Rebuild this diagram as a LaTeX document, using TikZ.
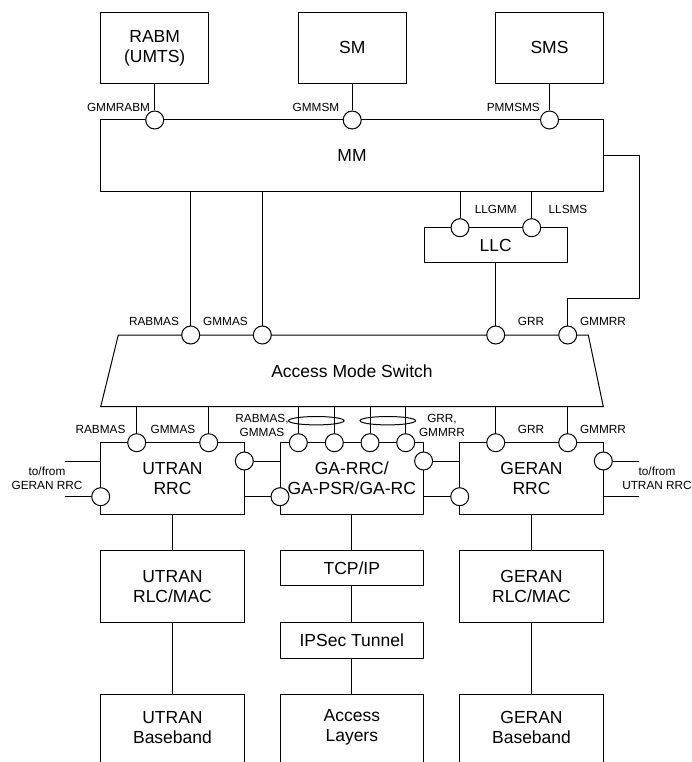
\documentclass[tikz,border=0pt]{standalone}
\usepackage{fontspec}
\setmainfont{Liberation Sans}
\newcommand\bigf{\fontsize{17.5}{20}\selectfont}
\newcommand\smallf{\fontsize{11.8}{14}\selectfont}
\tikzset{
 box/.style={draw, fill=white, inner sep=0pt, align=center, font=\bigf},
 port/.style={draw, circle, fill=white, minimum size=18pt, inner sep=0pt},
 lab/.style={inner sep=0pt, align=center, font=\smallf},
 txt/.style={inner sep=0pt, align=center, font=\bigf},
}
\begin{document}
\begin{tikzpicture}[x=1pt,y=-1pt,line width=1pt]
\useasboundingbox (0,0) rectangle (692,762);
\clip (0,0) rectangle (692,762);
% top boxes
\node[box,minimum width=108pt,minimum height=71pt] (rabm) at (154.7,47.8) {RABM\\(UMTS)};
\node[box,minimum width=108pt,minimum height=71pt] (sm) at (352.2,47.8) {SM};
\node[box,minimum width=108pt,minimum height=71pt] (sms) at (549.5,47.8) {SMS};
\node[box,minimum width=502.6pt,minimum height=71.7pt] (mm) at (352,155.85) {MM};
\node[box,minimum width=143.3pt,minimum height=35pt] (llc) at (495.7,245.2) {LLC};
% access mode switch
\coordinate (amsTL) at (118.3,335);
\coordinate (amsTR) at (588.3,335);
\coordinate (amsBR) at (603.3,406.7);
\coordinate (amsBL) at (100.7,406.7);
\draw (amsTL) -- (amsTR) -- (amsBR) -- (amsBL) -- cycle;
\node[txt] (ams) at (352,371) {Access Mode Switch};
% RRC row
\node[box,minimum width=143.6pt,minimum height=71.6pt] (utran) at (172.5,478.5) {UTRAN\\RRC};
\node[box,minimum width=143.6pt,minimum height=71.6pt] (ga) at (351.8,478.5) {GA-RRC/\\GA-PSR/GA-RC};
\node[box,minimum width=143.6pt,minimum height=71.6pt] (geran) at (531.5,478.5) {GERAN\\RRC};
% lower rows
\node[box,minimum width=143.6pt,minimum height=71.6pt] (urlc) at (172.5,586.5) {UTRAN\\RLC/MAC};
\node[box,minimum width=143.6pt,minimum height=71.6pt] (grlc) at (531.5,586.5) {GERAN\\RLC/MAC};
\node[box,minimum width=143.6pt,minimum height=35pt] (tcp) at (351.8,568.2) {TCP/IP};
\node[box,minimum width=143.6pt,minimum height=36pt] (ipsec) at (351.8,640.3) {IPSec Tunnel};
\node[box,minimum width=143.6pt,minimum height=100pt,anchor=north] (ubb) at (172.5,694.3) {};
\node[box,minimum width=143.6pt,minimum height=100pt,anchor=north] (al) at (351.8,694.3) {};
\node[box,minimum width=143.6pt,minimum height=100pt,anchor=north] (gbb) at (531.5,694.3) {};
\node[txt] (ubbt) at (172.5,727.7) {UTRAN\\Baseband};
\node[txt] (alt) at (351.8,727.7) {Access\\Layers};
\node[txt] (gbbt) at (531.5,727.7) {GERAN\\Baseband};
% ports
\node[port] (pgmmrabm) at (154.7,120) {};
\node[port] (pgmmsm) at (352.2,120) {};
\node[port] (ppmmsms) at (549.5,120) {};
\node[port] (pllgmm) at (460,227.7) {};
\node[port] (pllsms) at (531.7,227.7) {};
\node[port] (prabmas) at (190.7,335) {};
\node[port] (pgmmas) at (262.3,335) {};
\node[port] (pgrr) at (495.7,335) {};
\node[port] (pgmmrr) at (567.7,335) {};
\node[port] (pu1) at (136.7,442.7) {};
\node[port] (pu2) at (208.7,442.7) {};
\node[port] (pa1) at (298.3,442.7) {};
\node[port] (pa2) at (334.3,442.7) {};
\node[port] (pa3) at (370,442.7) {};
\node[port] (pa4) at (405.7,442.7) {};
\node[port] (pg1) at (495.7,442.7) {};
\node[port] (pg2) at (567.7,442.7) {};
\node[port] (pul) at (100.7,496.7) {};
\node[port] (pur) at (244.3,461) {};
\node[port] (pgal) at (280,496.7) {};
\node[port] (pgar) at (423.6,461) {};
\node[port] (pgel) at (459.7,496.7) {};
\node[port] (pger) at (603.3,461) {};
% connectors top
\draw (rabm) -- (pgmmrabm);
\draw (sm) -- (pgmmsm);
\draw (sms) -- (ppmmsms);
\draw (pllgmm |- mm.south) -- (pllgmm);
\draw (pllsms |- mm.south) -- (pllsms);
\draw (prabmas |- mm.south) -- (prabmas);
\draw (pgmmas |- mm.south) -- (pgmmas);
\draw (pgrr |- llc.south) -- (pgrr);
\coordinate (mmr) at (639.3,298.3);
\draw (mm.east) -| (mmr) -| (pgmmrr);
% connectors from switch
\foreach \p in {pu1,pu2,pa1,pa2,pa3,pa4,pg1,pg2}
  \draw (\p |- amsBL) -- (\p);
\draw (316.3,420.7) ellipse [x radius=27.8, y radius=4.2];
\draw (387.8,420.7) ellipse [x radius=27.8, y radius=4.2];
% side connectors
\coordinate (ul1) at (65,461);
\coordinate (ul2) at (65,496.7);
\coordinate (gr1) at (639.3,461);
\coordinate (gr2) at (639.3,496.7);
\draw (ul1) -- (ul1 -| utran.west);
\draw (ul2) -- (pul);
\draw (pur) -- (pur -| ga.west);
\draw (pgal -| utran.east) -- (pgal);
\draw (pgar) -- (pgar -| geran.west);
\draw (pgel -| ga.east) -- (pgel);
\draw (pger) -- (gr1);
\draw (gr2 -| geran.east) -- (gr2);
% vertical stack connectors
\draw (utran) -- (urlc);
\draw (urlc.south) -- (ubb.north);
\draw (ga) -- (tcp);
\draw (tcp) -- (ipsec);
\draw (ipsec.south) -- (al.north);
\draw (geran) -- (grlc);
\draw (grlc.south) -- (gbb.north);
% labels
\node[lab] (lgmmrabm) at (118.5,107) {GMMRABM};
\node[lab] (lgmmsm) at (316,107) {GMMSM};
\node[lab] (lpmmsms) at (513.3,107) {PMMSMS};
\node[lab] (lllgmm) at (495.8,209) {LLGMM};
\node[lab] (lllsms) at (568,209) {LLSMS};
\node[lab] (lrabmas1) at (154,321.7) {RABMAS};
\node[lab] (lgmmas1) at (225.5,321.7) {GMMAS};
\node[lab] (lgrr1) at (531,321.7) {GRR};
\node[lab] (lgmmrr1) at (603,321.7) {GMMRR};
\node[lab] (lrabmas2) at (100.5,429) {RABMAS};
\node[lab] (lgmmas2) at (173,429) {GMMAS};
\node[lab] (lga1) at (262,425.3) {RABMAS,\\GMMAS};
\node[lab] (lga2) at (442,425.3) {GRR,\\GMMRR};
\node[lab] (lgrr2) at (531,429) {GRR};
\node[lab] (lgmmrr2) at (603,429) {GMMRR};
\node[lab] (ltofrom1) at (47,478.3) {to/from\\GERAN RRC};
\node[lab] (ltofrom2) at (657,478.3) {to/from\\UTRAN RRC};
\end{tikzpicture}
\end{document}
